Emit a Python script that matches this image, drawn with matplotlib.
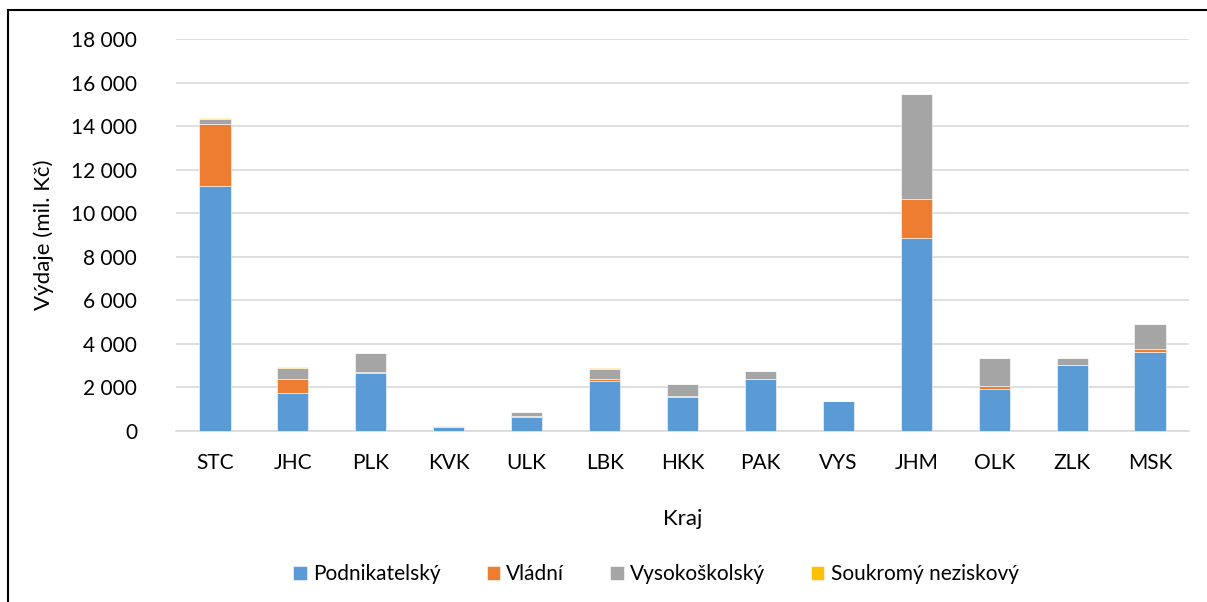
import numpy as np
import matplotlib
matplotlib.use("Agg")
import matplotlib.pyplot as plt
from matplotlib.ticker import FuncFormatter, MultipleLocator
from matplotlib.patches import Rectangle

kraje = ["STC", "JHC", "PLK", "KVK", "ULK", "LBK", "HKK", "PAK", "VYS", "JHM", "OLK", "ZLK", "MSK"]
podnikatelsky = [11230, 1740, 2650, 190, 650, 2290, 1580, 2380, 1360, 8870, 1940, 3030, 3640]
vladni = [2870, 640, 60, 15, 60, 80, 40, 30, 5, 1790, 110, 10, 110]
vysokoskolsky = [230, 520, 860, 40, 170, 490, 530, 340, 20, 4800, 1290, 310, 1150]
soukromy = [40, 25, 30, 5, 5, 30, 5, 5, 5, 30, 25, 5, 25]

series = [("Podnikatelský", podnikatelsky, "#5B9BD5"),
          ("Vládní", vladni, "#ED7D31"),
          ("Vysokoškolský", vysokoskolsky, "#A5A5A5"),
          ("Soukromý neziskový", soukromy, "#FFC000")]

plt.rcParams["font.family"] = ["Lato", "DejaVu Sans"]
plt.rcParams["font.size"] = 15

fig = plt.figure(figsize=(12.07, 6.02), dpi=100)
ax = fig.add_axes([176 / 1207, 1 - 431 / 602, (1189 - 176) / 1207, (431 - 39) / 602])

x = np.arange(len(kraje))
bottom = np.zeros(len(kraje))
for name, vals, col in series:
    vals = np.array(vals, dtype=float)
    ax.bar(x, vals, 0.4, bottom=bottom, color=col, label=name, edgecolor="white", linewidth=0.4, zorder=3)
    bottom += vals

ax.set_xlim(-0.5, len(kraje) - 0.5)
ax.set_ylim(0, 18000)
ax.yaxis.set_major_locator(MultipleLocator(2000))
ax.yaxis.set_major_formatter(FuncFormatter(lambda v, p: f"{int(v):,}".replace(",", " ")))
ax.set_xticks(x)
ax.set_xticklabels(kraje)
ax.grid(axis="y", color="#d9d9d9", linewidth=1.2, zorder=0)
for s in ["top", "right", "left"]:
    ax.spines[s].set_visible(False)
ax.spines["bottom"].set_color("#d9d9d9")
ax.spines["bottom"].set_linewidth(1.2)
ax.tick_params(axis="both", length=0, colors="black")
ax.tick_params(axis="y", pad=28)
ax.tick_params(axis="x", pad=16)

ax.set_ylabel("Výdaje (mil. Kč)", fontsize=16, labelpad=12)
ax.set_xlabel("Kraj", fontsize=16, labelpad=26)

fig.legend(loc="center", bbox_to_anchor=(656 / 1207, 1 - 574 / 602), ncol=4, frameon=False,
           fontsize=15, handlelength=0.65, handleheight=0.65, handletextpad=0.3, columnspacing=2.2)

fig.patches.append(Rectangle((8 / 1207, -0.1), 1.2, 1 - 10 / 602 + 0.1, transform=fig.transFigure,
                             fill=False, edgecolor="black", linewidth=1.5))

fig.savefig("out.png", dpi=100)
